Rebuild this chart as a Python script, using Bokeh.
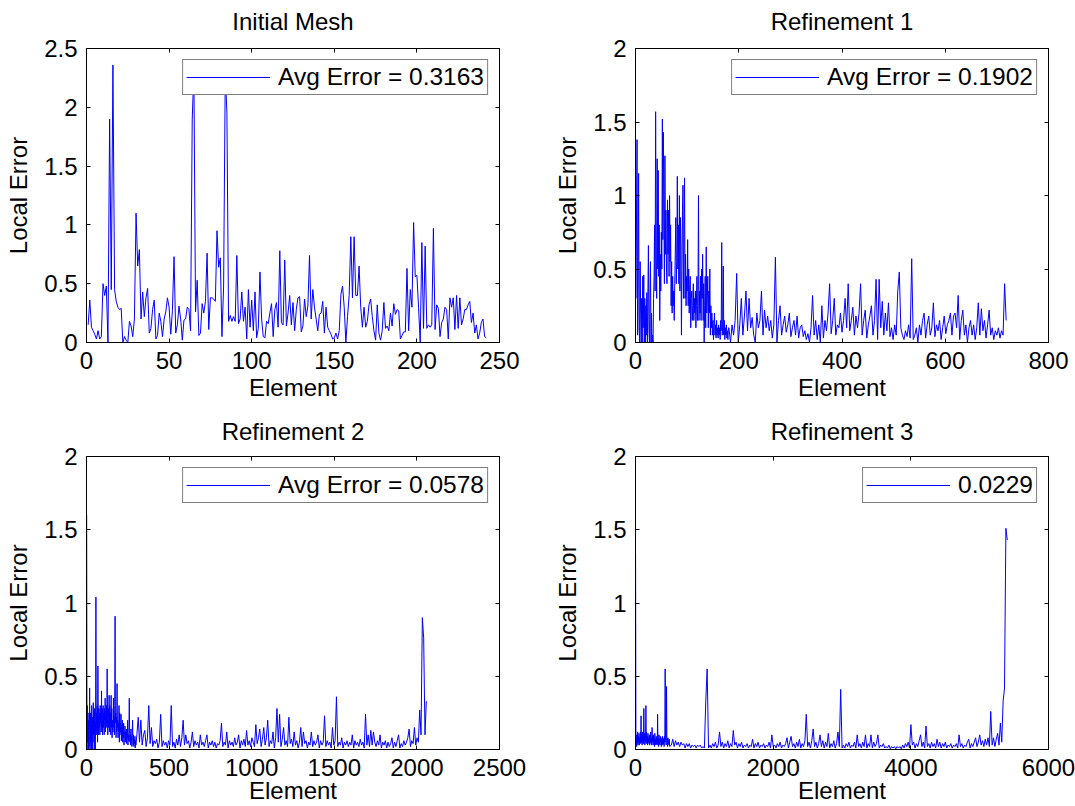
from bokeh.plotting import figure
from bokeh.models import LinearAxis, Range1d, FixedTicker, CustomJSTickFormatter
from bokeh.layouts import column, row
from bokeh.embed import file_html
from bokeh.resources import INLINE
import numpy as np

FONT = "Liberation Sans"
BLUE = "#0000ff"

# ---- Initial mesh: local error of every element (elements 1..242) ----
initial_err = [
    0.15, 0.36, 0.13, 0.10, 0.07, 0.03, 0.10, 0.03, 0.05, 0.50,
    0.40, 0.48, 0.00, 1.90, 0.45, 2.36, 0.45, 0.35,
    0.30, 0.28, 0.29, 0.00, 0.05, 0.02, 0.00, 0.18, 0.14, 0.05,
    0.20, 1.10, 0.65, 0.79, 0.20, 0.43, 0.22, 0.38, 0.46, 0.08,
    0.12, 0.28, 0.36, 0.03, 0.06, 0.25, 0.18, 0.05, 0.20, 0.26,
    0.38, 0.30, 0.07, 0.27, 0.73, 0.08, 0.15, 0.31, 0.20, 0.02,
    0.19, 0.20, 0.30, 0.28, 0.10, 1.90, 2.30, 0.26, 0.53, 0.06,
    0.08, 0.33, 0.25, 0.35, 0.76, 0.11, 0.38, 0.38, 0.37, 0.35,
    0.95, 0.64, 0.72, 0.05, 0.48, 2.30, 1.95, 0.18, 0.23, 0.18,
    0.22, 0.18, 0.74, 0.16, 0.20, 0.43, 0.18, 0.30, 0.03, 0.45,
    0.13, 0.36, 0.10, 0.43, 0.04, 0.12, 0.60, 0.20,
    0.05, 0.04, 0.18, 0.16, 0.25, 0.33, 0.05, 0.28, 0.34, 0.13,
    0.78, 0.17, 0.15, 0.70, 0.14, 0.25, 0.40, 0.15, 0.34, 0.10,
    0.28, 0.38, 0.39, 0.09, 0.14, 0.37, 0.22, 0.31, 0.74, 0.20,
    0.45, 0.30, 0.20, 0.10, 0.24, 0.25, 0.35, 0.08, 0.30, 0.13,
    0.10, 0.07, 0.03, 0.04, 0.08, 0.03, 0.10, 0.41, 0.48, 0.30,
    0.00, 0.22, 0.40, 0.90, 0.38, 0.90, 0.40, 0.40, 0.65, 0.30,
    0.13, 0.30, 0.13, 0.18, 0.32, 0.37, 0.22, 0.10, 0.02, 0.32,
    0.08, 0.02, 0.10, 0.34, 0.12, 0.14, 0.10, 0.25, 0.14, 0.33,
    0.24, 0.28, 0.27, 0.03, 0.06, 0.09, 0.09, 0.63, 0.10, 0.45,
    0.30, 1.02, 0.56, 0.57, 0.30, 0.00, 0.85, 0.12, 0.82, 0.12,
    0.15, 0.13, 0.15, 0.97, 0.11, 0.32, 0.29, 0.05, 0.17, 0.20,
    0.30, 0.28, 0.03, 0.38, 0.30, 0.38, 0.11, 0.40, 0.12, 0.38,
    0.15, 0.20, 0.28, 0.28, 0.32, 0.35, 0.17, 0.25, 0.08, 0.15,
    0.03, 0.08, 0.17, 0.20, 0.05, 0.04,
]

# ---- Refinement 1: elements 1..180 one by one, then every 3rd (181..718) ----
ref1_head_err = [
    0.30, 0.90, 1.38, 0.05, 0.40, 1.15, 0.10, 0.00, 0.55, 0.20,
    0.00, 0.30, 0.00, 0.45, 0.10, 0.46, 0.00, 0.30, 0.00, 0.25,
    0.05, 0.34, 0.00, 0.32, 0.66, 0.10, 0.00, 0.30, 0.55, 0.00,
    0.20, 0.00, 0.05, 0.00, 0.30, 0.45, 0.80, 0.35, 1.57, 0.60,
    0.30, 1.25, 0.50, 1.17, 0.45, 0.80, 0.15, 0.60, 0.35, 0.75,
    0.50, 1.52, 0.70, 1.43, 0.90, 0.40, 1.27, 0.60, 0.90, 0.50,
    0.40, 0.97, 0.60, 0.90, 0.45, 1.00, 0.55, 0.80, 0.25, 0.55,
    0.20, 0.45, 0.25, 0.35, 0.15, 0.40, 0.60, 0.85, 0.40, 0.55,
    1.13, 0.50, 0.80, 0.40, 1.00, 0.35, 0.85, 0.65, 0.05, 0.50,
    0.90, 1.07, 0.30, 0.70, 1.12, 0.30, 0.60, 0.25, 0.45, 0.35,
    0.70, 0.25, 0.50, 0.20, 0.35, 0.45, 0.10, 0.30, 0.35, 0.15,
    0.25, 0.40, 0.15, 0.30, 0.20, 0.35, 0.10, 0.25, 0.45, 0.15,
    0.30, 1.00, 0.15, 0.35, 0.20, 0.45, 0.15, 0.50, 0.30, 0.60,
    0.15, 0.40, 0.00, 0.25, 0.45, 0.10, 0.65, 0.20, 0.30, 0.45,
    0.10, 0.35, 0.20, 0.50, 0.05, 0.25, 0.10, 0.20, 0.05, 0.15,
    0.02, 0.10, 0.20, 0.05, 0.12, 0.03, 0.15, 0.05, 0.10, 0.03,
    0.12, 0.05, 0.10, 0.02, 0.15, 0.08, 0.68, 0.05, 0.10, 0.52,
    0.05, 0.15, 0.02, 0.10, 0.05, 0.12, 0.03, 0.08, 0.02, 0.10,
]
ref1_tail_err = [
    0.10, 0.00, 0.12, 0.05, 0.15, 0.47, 0.00, 0.12, 0.30, 0.05, 0.18, 0.35,
    0.08, 0.30, 0.10, 0.17, 0.05, 0.00, 0.20, 0.10, 0.15, 0.35, 0.05, 0.22,
    0.10, 0.18, 0.08, 0.15, 0.03, 0.12, 0.58, 0.00, 0.15, 0.25, 0.05, 0.12,
    0.18, 0.07, 0.12, 0.20, 0.04, 0.10, 0.15, 0.05, 0.18, 0.03, 0.10, 0.12,
    0.04, 0.08, 0.02, 0.06, 0.00, 0.10,
    0.32, 0.05, 0.15, 0.02, 0.12, 0.00, 0.25, 0.03, 0.15, 0.08, 0.20, 0.40,
    0.06, 0.15, 0.30, 0.05, 0.12, 0.10, 0.20, 0.07, 0.15, 0.30, 0.10, 0.40,
    0.08, 0.15, 0.24, 0.05, 0.18, 0.10, 0.20, 0.40, 0.05, 0.15, 0.22, 0.03,
    0.12, 0.18, 0.25, 0.05, 0.15, 0.43, 0.02, 0.43, 0.10, 0.28, 0.05, 0.20,
    0.08, 0.27, 0.04, 0.10, 0.02, 0.12, 0.05, 0.35, 0.48, 0.10, 0.05, 0.02,
    0.08, 0.04, 0.12, 0.03, 0.57, 0.02,
    0.05, 0.10, 0.00, 0.12, 0.05, 0.15, 0.20, 0.03, 0.12, 0.18, 0.05, 0.10,
    0.27, 0.04, 0.12, 0.08, 0.15, 0.02, 0.10, 0.18, 0.06, 0.12, 0.15, 0.20,
    0.05, 0.18, 0.20, 0.10, 0.32, 0.02, 0.15, 0.22, 0.05, 0.12, 0.00, 0.10,
    0.15, 0.05, 0.12, 0.02, 0.10, 0.27, 0.05, 0.23, 0.08, 0.15, 0.03, 0.12,
    0.22, 0.05, 0.10, 0.02, 0.08, 0.05, 0.10, 0.03, 0.08, 0.05, 0.40, 0.15,
]

# ---- Refinement 2: every 2nd element (1..299), then every 8th (305..2057) ----
ref2_head_err = [
    1.60, 0.00, 0.30, 0.05, 0.25, 0.00, 0.20, 0.02, 0.15, 0.42,
    0.00, 0.25, 0.05, 0.20, 0.00, 0.30, 0.10, 0.00, 0.22, 0.05,
    0.32, 0.10, 0.25, 0.00, 0.28, 0.15, 0.00, 0.20, 1.04, 0.10,
    0.25, 0.15, 0.30, 0.05, 0.57, 0.20, 0.10, 0.28, 0.15, 0.25,
    0.10, 0.30, 0.18, 0.25, 0.12, 0.40, 0.15, 0.28, 0.10, 0.22,
    0.30, 0.15, 0.25, 0.10, 0.28, 0.20, 0.35, 0.12, 0.25, 0.18,
    0.30, 0.15, 0.55, 0.25, 0.10, 0.28, 0.15, 0.22, 0.37, 0.12,
    0.30, 0.18, 0.25, 0.10, 0.37, 0.15, 0.28, 0.08, 0.20, 0.12,
    0.12, 0.35, 0.15, 0.22, 0.10, 0.30, 0.91, 0.18, 0.25, 0.08,
    0.22, 0.12, 0.45, 0.15, 0.20, 0.08, 0.18, 0.12, 0.30, 0.05,
    0.25, 0.10, 0.18, 0.12, 0.24, 0.06, 0.15, 0.10, 0.20, 0.05,
    0.15, 0.08, 0.18, 0.03, 0.12, 0.10, 0.16, 0.05, 0.12, 0.08,
    0.14, 0.04, 0.12, 0.08, 0.20, 0.03, 0.10, 0.06, 0.15, 0.35,
    0.12, 0.05, 0.10, 0.03, 0.14, 0.06, 0.09, 0.02, 0.12, 0.20,
    0.08, 0.03, 0.10, 0.02, 0.07, 0.04, 0.09, 0.01, 0.06, 0.03,
]
ref2_tail_err = [
    0.10, 0.22, 0.05, 0.20, 0.03, 0.10, 0.13, 0.02, 0.08, 0.30,
    0.04, 0.15, 0.02, 0.06, 0.04, 0.07, 0.01, 0.05, 0.24, 0.02,
    0.06, 0.03, 0.05, 0.01, 0.06, 0.03, 0.30, 0.02, 0.05, 0.01,
    0.07, 0.03, 0.10, 0.02, 0.08, 0.20, 0.03, 0.10, 0.04, 0.06,
    0.01, 0.05, 0.12, 0.02, 0.06, 0.03, 0.05, 0.01, 0.10, 0.03,
    0.05, 0.02, 0.06, 0.10, 0.01, 0.05, 0.03, 0.06, 0.02, 0.05,
    0.01, 0.04, 0.03, 0.06, 0.18, 0.02, 0.05, 0.03, 0.12, 0.01,
    0.06, 0.03, 0.05, 0.02, 0.08, 0.03, 0.05, 0.10, 0.01, 0.06,
    0.03, 0.07, 0.02, 0.13, 0.03, 0.06, 0.02, 0.08,
    0.05, 0.02, 0.17, 0.04, 0.08, 0.14, 0.02, 0.07, 0.15, 0.03,
    0.08, 0.20, 0.02, 0.06, 0.04, 0.12, 0.01, 0.08, 0.28, 0.05,
    0.24, 0.02, 0.07, 0.15, 0.03, 0.06, 0.02, 0.22, 0.04, 0.07,
    0.02, 0.12, 0.03, 0.06, 0.01, 0.05, 0.15, 0.02, 0.12, 0.04,
    0.06, 0.01, 0.05, 0.03, 0.12, 0.02, 0.06, 0.03, 0.05, 0.10,
    0.01, 0.06, 0.03, 0.05, 0.23, 0.02, 0.06, 0.03, 0.05, 0.01,
    0.15, 0.03, 0.06, 0.36, 0.02, 0.05, 0.03, 0.08, 0.01, 0.05,
    0.03, 0.06, 0.02, 0.05, 0.03, 0.10, 0.01, 0.06, 0.03, 0.05,
    0.02, 0.07, 0.03, 0.05, 0.01, 0.24, 0.03, 0.10,
    0.02, 0.13, 0.03, 0.12, 0.05, 0.02, 0.06, 0.03, 0.10, 0.01,
    0.05, 0.03, 0.06, 0.01, 0.05, 0.02, 0.04, 0.08, 0.01, 0.05,
    0.02, 0.06, 0.10, 0.01, 0.04, 0.02, 0.06, 0.03, 0.05, 0.08,
    0.14, 0.02, 0.06, 0.04, 0.15, 0.03, 0.08, 0.05, 0.27, 0.10,
    0.90, 0.76, 0.10, 0.33,
]

# ---- Refinement 3: every 5th element (1..496), then every 20th (521..5401) ----
ref3_head_err = [
    1.33, 0.05, 0.10, 0.02, 0.08, 0.04, 0.12, 0.03, 0.09, 0.05,
    0.11, 0.03, 0.08, 0.06, 0.12, 0.04, 0.23, 0.05, 0.10, 0.03,
    0.12, 0.05, 0.09, 0.04, 0.28, 0.06, 0.11, 0.03, 0.10, 0.05,
    0.30, 0.04, 0.12, 0.06, 0.09, 0.03, 0.11, 0.05, 0.08, 0.04,
    0.10, 0.03, 0.09, 0.05, 0.12, 0.04, 0.08, 0.03, 0.15, 0.05,
    0.09, 0.03, 0.10, 0.05, 0.08, 0.02, 0.11, 0.04, 0.07, 0.03,
    0.09, 0.04, 0.08, 0.03, 0.24, 0.05, 0.08, 0.02, 0.10, 0.04,
    0.07, 0.03, 0.09, 0.05, 0.08, 0.02, 0.07, 0.04, 0.09, 0.03,
    0.08, 0.04, 0.07, 0.02, 0.09, 0.05, 0.55, 0.08, 0.06, 0.03,
    0.43, 0.05, 0.07, 0.02, 0.08, 0.04, 0.06, 0.03, 0.07, 0.02,
]
ref3_tail_err = [
    0.03, 0.07, 0.02, 0.06, 0.03, 0.05, 0.02, 0.05, 0.03, 0.04,
    0.01, 0.04, 0.02, 0.04, 0.01, 0.03, 0.02, 0.03, 0.01, 0.03,
    0.02, 0.03, 0.01, 0.02, 0.01,
    0.33, 0.55, 0.01, 0.03, 0.01, 0.04, 0.02, 0.05, 0.01, 0.03,
    0.12, 0.02, 0.05, 0.01, 0.04, 0.02, 0.06, 0.01, 0.04, 0.02,
    0.13, 0.03, 0.05, 0.01, 0.04, 0.02, 0.05, 0.01, 0.03, 0.02,
    0.04, 0.01, 0.03, 0.02, 0.07, 0.01, 0.04, 0.02, 0.05, 0.01,
    0.03, 0.02, 0.04, 0.01, 0.03, 0.02, 0.05, 0.01, 0.10, 0.02,
    0.03, 0.01, 0.04, 0.02, 0.05, 0.01, 0.03, 0.02, 0.04, 0.08,
    0.01, 0.05, 0.09, 0.02, 0.04, 0.01, 0.05, 0.02, 0.07, 0.01,
    0.04, 0.02, 0.06, 0.24, 0.02, 0.05, 0.01, 0.06, 0.14, 0.02,
    0.05, 0.01, 0.04, 0.10, 0.02, 0.06, 0.01, 0.05, 0.02, 0.11,
    0.01, 0.04, 0.02, 0.06, 0.01, 0.04, 0.12, 0.02, 0.41, 0.01,
    0.03, 0.01, 0.04, 0.02, 0.05, 0.01, 0.03, 0.02, 0.05, 0.01,
    0.10, 0.02, 0.04, 0.01, 0.05, 0.02, 0.10, 0.01, 0.04, 0.02,
    0.10, 0.01, 0.05, 0.02, 0.04, 0.10, 0.01, 0.03, 0.02, 0.04,
    0.01, 0.02, 0.01, 0.03, 0.005, 0.02, 0.01, 0.02, 0.005, 0.02,
    0.01, 0.02, 0.005, 0.03, 0.01, 0.04, 0.02, 0.05, 0.01, 0.17,
    0.03, 0.05, 0.01, 0.04, 0.02, 0.06, 0.10, 0.02, 0.05, 0.01,
    0.16, 0.02, 0.04, 0.01, 0.05, 0.02, 0.04, 0.01, 0.07, 0.02,
    0.05, 0.01, 0.04, 0.02, 0.05, 0.01, 0.03, 0.02, 0.04, 0.01,
    0.03, 0.02, 0.04, 0.01, 0.10, 0.02, 0.04, 0.01, 0.03, 0.02,
    0.05, 0.07, 0.01, 0.04, 0.02, 0.05, 0.08, 0.02, 0.05, 0.10,
    0.03, 0.06, 0.02, 0.07, 0.03, 0.08, 0.02, 0.26, 0.03, 0.08,
    0.02, 0.07, 0.11, 0.03, 0.18, 0.05, 0.33, 0.42, 1.51, 1.43,
]

titles = ["Initial Mesh", "Refinement 1", "Refinement 2", "Refinement 3"]
legend_labels = ["Avg Error = 0.3163", "Avg Error = 0.1902",
                 "Avg Error = 0.0578", "0.0229"]
x_ticks = [[0, 50, 100, 150, 200, 250],
           [0, 200, 400, 600, 800],
           [0, 500, 1000, 1500, 2000, 2500],
           [0, 2000, 4000, 6000]]
y_ticks = [[0, 0.5, 1, 1.5, 2, 2.5],
           [0, 0.5, 1, 1.5, 2],
           [0, 0.5, 1, 1.5, 2],
           [0, 0.5, 1, 1.5, 2]]

# each series: list of (first element, element step, values)
series = [
    [(1, 1, initial_err)],
    [(1, 1, ref1_head_err), (181, 3, ref1_tail_err)],
    [(1, 2, ref2_head_err), (305, 8, ref2_tail_err)],
    [(1, 5, ref3_head_err), (521, 20, ref3_tail_err)],
]

# width, height, (left, right, top, bottom) borders for each cell
cells = [
    (539, 408, (86, 40, 48, 66)),
    (536, 408, (96, 27, 48, 66)),
    (539, 398, (86, 40, 48, 56)),
    (536, 398, (96, 27, 48, 56)),
]
label_standoffs = [2, 2, -2, -2]
title_standoffs = [14, 14, 12, 12]

fmt = CustomJSTickFormatter(code="return String(tick);")


def style_axis(ax, ticks, show_labels):
    ax.ticker = FixedTicker(ticks=ticks)
    ax.formatter = fmt
    ax.major_tick_in = 4
    ax.major_tick_out = 0
    ax.minor_tick_line_color = None
    ax.axis_line_color = "black"
    ax.major_tick_line_color = "black"
    ax.major_label_text_font = FONT
    ax.axis_label_text_font = FONT
    ax.axis_label_text_font_style = "normal"
    ax.axis_label_text_font_size = "24px"
    ax.axis_label_text_color = "black"
    if show_labels:
        ax.major_label_text_font_size = "24px"
        ax.major_label_text_color = "black"
        ax.major_label_standoff = 9
    else:
        ax.major_label_text_font_size = "1px"
        ax.major_label_text_color = None
        ax.major_label_standoff = 0


plots = []
for i in range(4):
    xs = np.concatenate([start + step * np.arange(len(vals))
                         for start, step, vals in series[i]])
    ys = np.concatenate([np.asarray(vals, dtype=float)
                         for _, _, vals in series[i]])
    w, h, (bl, br, bt, bb) = cells[i]
    p = figure(width=w, height=h, output_backend="svg", toolbar_location=None,
               title=None,
               x_range=Range1d(0, x_ticks[i][-1]),
               y_range=Range1d(0, y_ticks[i][-1]),
               min_border_left=bl, min_border_right=br,
               min_border_top=bt, min_border_bottom=bb,
               x_axis_label="Element", y_axis_label="Local Error")
    p.grid.visible = False
    p.outline_line_color = "black"
    p.background_fill_color = "white"
    p.border_fill_color = "white"

    p.line(xs, ys, line_color=BLUE, line_width=1, legend_label=legend_labels[i])

    style_axis(p.xaxis[0], x_ticks[i], True)
    style_axis(p.yaxis[0], y_ticks[i], True)
    p.xaxis[0].axis_label_standoff = label_standoffs[i]
    p.yaxis[0].axis_label_standoff = 9

    # top axis carries the inward ticks and the panel heading
    top = LinearAxis(axis_label=titles[i])
    right = LinearAxis()
    style_axis(top, x_ticks[i], False)
    style_axis(right, y_ticks[i], False)
    top.axis_label_standoff = title_standoffs[i]
    p.add_layout(top, "above")
    p.add_layout(right, "right")

    lg = p.legend[0]
    lg.location = "top_right"
    lg.margin = 11
    lg.padding = 3
    lg.spacing = 0
    lg.glyph_width = 84
    lg.glyph_height = 24
    lg.label_height = 24
    lg.label_standoff = 8
    lg.label_text_font = FONT
    lg.label_text_font_size = "24.5px"
    lg.label_text_color = "black"
    lg.border_line_color = "black"
    lg.border_line_width = 1
    lg.background_fill_color = "white"
    lg.background_fill_alpha = 1.0
    plots.append(p)

layout = column(row(plots[0], plots[1]), row(plots[2], plots[3]))
open("out.html", "w").write(file_html(layout, INLINE))
